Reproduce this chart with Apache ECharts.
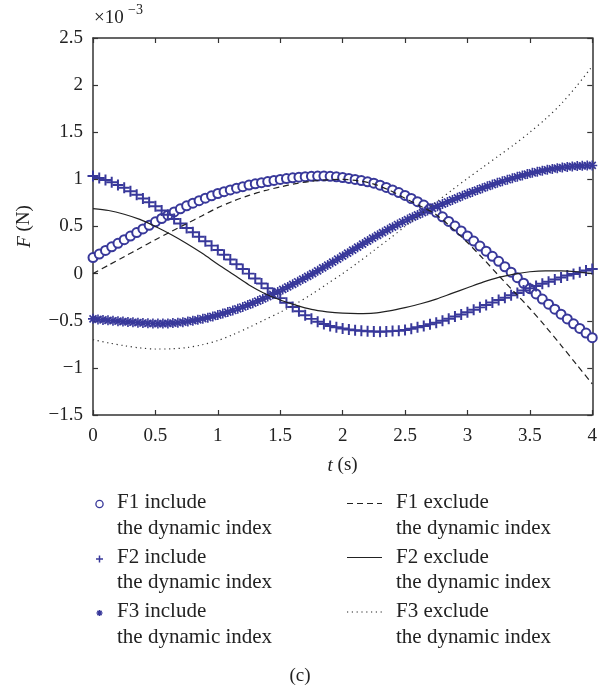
<!DOCTYPE html>
<html>
<head>
<meta charset="utf-8">
<script src="https://cdn.jsdelivr.net/npm/echarts@6.0.0/dist/echarts.min.js"></script>
<style>
  html, body { margin: 0; padding: 0; background: #fff; }
  #chart { width: 600px; height: 689px; }
</style>
</head>
<body>
<div id="chart"></div>
<script>
// values are in units of 1e-3 N, lines sampled every 0.125 s
var lineTimes = [0, 0.125, 0.25, 0.375, 0.5, 0.625, 0.75, 0.875, 1, 1.125, 1.25, 1.375, 1.5, 1.625, 1.75, 1.875,
  2, 2.125, 2.25, 2.375, 2.5, 2.625, 2.75, 2.875, 3, 3.125, 3.25, 3.375, 3.5, 3.625, 3.75, 3.875, 4];
var f1Exclude = [0.00, 0.09, 0.18, 0.27, 0.36, 0.445, 0.53, 0.615, 0.70, 0.77, 0.83, 0.88, 0.92, 0.955, 0.98, 0.995,
  1.00, 0.985, 0.95, 0.885, 0.80, 0.715, 0.625, 0.485, 0.33, 0.16, -0.02, -0.195, -0.37, -0.56, -0.76, -0.965, -1.17];
var f2Exclude = [0.69, 0.67, 0.63, 0.575, 0.50, 0.415, 0.32, 0.215, 0.10, -0.01, -0.12, -0.21, -0.28, -0.335, -0.38, -0.405,
  -0.42, -0.425, -0.42, -0.395, -0.36, -0.32, -0.27, -0.21, -0.15, -0.09, -0.04, -0.005, 0.02, 0.03, 0.03, 0.02, 0.00];
var f3Exclude = [-0.70, -0.735, -0.765, -0.788, -0.80, -0.798, -0.785, -0.755, -0.71, -0.645, -0.57, -0.49, -0.41, -0.32, -0.22, -0.11,
  0.00, 0.12, 0.245, 0.37, 0.50, 0.63, 0.76, 0.885, 1.01, 1.13, 1.25, 1.37, 1.50, 1.64, 1.80, 1.99, 2.20];

// sampled every 0.05 s
var f1Include = [0.170,0.208,0.246,0.284,0.322,0.360,0.398,0.436,0.474,0.512,
  0.550,0.585,0.620,0.654,0.688,0.720,0.747,0.774,0.800,0.825,
  0.850,0.869,0.888,0.906,0.923,0.940,0.953,0.965,0.977,0.989,
  1.000,1.008,1.016,1.023,1.029,1.033,1.035,1.035,1.032,1.027,
  1.020,1.010,0.999,0.987,0.974,0.960,0.938,0.914,0.888,0.860,
  0.830,0.797,0.763,0.727,0.689,0.650,0.603,0.554,0.504,0.453,
  0.400,0.346,0.292,0.238,0.184,0.130,0.073,0.015,-0.043,-0.102,
  -0.160,-0.215,-0.270,-0.324,-0.377,-0.430,-0.481,-0.532,-0.582,-0.631,
  -0.680];
var f2Include = [1.035,1.015,0.993,0.969,0.941,0.910,0.874,0.836,0.797,0.757,
  0.715,0.670,0.625,0.579,0.532,0.485,0.438,0.391,0.344,0.297,
  0.250,0.200,0.150,0.100,0.050,0.000,-0.052,-0.104,-0.156,-0.208,
  -0.260,-0.308,-0.353,-0.400,-0.442,-0.480,-0.510,-0.535,-0.555,-0.570,
  -0.582,-0.592,-0.600,-0.607,-0.612,-0.615,-0.616,-0.614,-0.610,-0.605,
  -0.598,-0.585,-0.570,-0.555,-0.538,-0.520,-0.499,-0.478,-0.456,-0.433,
  -0.410,-0.384,-0.358,-0.332,-0.306,-0.280,-0.255,-0.230,-0.205,-0.180,
  -0.155,-0.131,-0.108,-0.085,-0.062,-0.040,-0.021,-0.003,0.015,0.033,
  0.050];
// sampled every 0.04 s
var f3Include = [-0.480,-0.486,-0.491,-0.496,-0.500,-0.504,-0.509,-0.512,-0.516,-0.520,
  -0.524,-0.527,-0.529,-0.530,-0.530,-0.528,-0.525,-0.521,-0.515,-0.508,
  -0.499,-0.490,-0.479,-0.467,-0.454,-0.440,-0.424,-0.408,-0.391,-0.373,
  -0.354,-0.334,-0.313,-0.291,-0.268,-0.244,-0.219,-0.194,-0.168,-0.141,
  -0.114,-0.086,-0.058,-0.029,0.000,0.030,0.060,0.091,0.122,0.153,
  0.185,0.217,0.249,0.281,0.313,0.345,0.376,0.406,0.436,0.465,
  0.493,0.521,0.548,0.574,0.599,0.623,0.647,0.670,0.693,0.716,
  0.738,0.760,0.782,0.804,0.826,0.847,0.867,0.887,0.907,0.926,
  0.945,0.963,0.980,0.996,1.012,1.027,1.042,1.056,1.069,1.081,
  1.092,1.102,1.111,1.119,1.126,1.132,1.137,1.141,1.144,1.146,
  1.148];

var legendNames = ['F1 include', 'F2 include', 'F3 include', 'F1 exclude', 'F2 exclude', 'F3 exclude'];

var blue = '#38389a';
var ink = '#222';
var font = 'Liberation Serif';

var plusPath = 'path://M4.1,0 H5.9 V10 H4.1 Z M0,4.1 H10 V5.9 H0 Z';
var starPath = 'path://M4.2,0 H5.8 V10 H4.2 Z M0,4.2 H10 V5.8 H0 Z ' +
  'M2.1,0.9 L9.1,7.9 L7.9,9.1 L0.9,2.1 Z M7.9,0.9 L9.1,2.1 L2.1,9.1 L0.9,7.9 Z';

function pairs(times, vals) {
  return vals.map(function (v, i) { return [times[i], v]; });
}
function sampled(step, vals) {
  return vals.map(function (v, i) { return [Math.round(i * step * 1000) / 1000, v]; });
}

var chart = echarts.init(document.getElementById('chart'));

var axisLine = { show: true, onZero: false, lineStyle: { color: '#333', width: 1.5 } };
var tick = { show: true, inside: true, length: 5, lineStyle: { color: '#333', width: 1.2 } };
var labelStyle = { fontFamily: font, fontSize: 19, color: ink };

function legendText(x, y, s) {
  return { type: 'text', left: x, top: y - 12, style: { text: s, font: '21px "' + font + '"', fill: ink } };
}
function legendLine(y, dash) {
  return { type: 'line', shape: { x1: 347, y1: y, x2: 382, y2: y },
    style: { stroke: ink, lineWidth: 1.2, lineDash: dash } };
}
function seg(x1, y1, x2, y2) {
  return { type: 'line', shape: { x1: x1, y1: y1, x2: x2, y2: y2 }, style: { stroke: blue, lineWidth: 1.5 } };
}

var graphics = [
  { type: 'text', left: 94, top: 9, style: { text: '×10', font: '19px "' + font + '"', fill: ink } },
  { type: 'text', left: 128, top: 3, style: { text: '−3', font: '14px "' + font + '"', fill: ink } },
  { type: 'circle', shape: { cx: 99.5, cy: 504, r: 3.6 }, style: { fill: 'none', stroke: blue, lineWidth: 1.3 } },
  seg(96, 559, 103, 559), seg(99.5, 555.5, 99.5, 562.5),
  seg(96.5, 613, 102.5, 613), seg(99.5, 610, 99.5, 616), seg(97.4, 610.9, 101.6, 615.1), seg(101.6, 610.9, 97.4, 615.1),
  legendLine(503.5, [6, 4]), legendLine(557.5, null), legendLine(612, [1.2, 3.6]),
  { type: 'text', left: 'center', top: 667, style: { text: '(c)', font: '19px "' + font + '"', fill: ink } }
];
for (var i = 0; i < 3; i++) {
  var y0 = 504 + i * 54.5;
  graphics.push(legendText(117, y0, legendNames[i]));
  graphics.push(legendText(117, y0 + 25.5, 'the dynamic index'));
  graphics.push(legendText(396, y0, legendNames[i + 3]));
  graphics.push(legendText(396, y0 + 25.5, 'the dynamic index'));
}

chart.setOption({
  animation: false,
  backgroundColor: '#fff',
  grid: { left: 93, right: 2, top: 38, bottom: 274, containLabel: false },
  xAxis: [
    {
      type: 'value', min: 0, max: 4, interval: 0.5, position: 'bottom',
      axisLine: axisLine, axisTick: tick, splitLine: { show: false },
      axisLabel: Object.assign({ margin: 12 }, labelStyle),
      name: '{i|t} (s)', nameLocation: 'middle', nameGap: 41,
      nameTextStyle: { fontFamily: font, fontSize: 19, color: ink, rich: { i: { fontStyle: 'italic', fontFamily: font, fontSize: 19, color: ink } } }
    },
    {
      type: 'value', min: 0, max: 4, interval: 0.5, position: 'top',
      axisLine: axisLine, axisTick: tick, axisLabel: { show: false }, splitLine: { show: false }
    }
  ],
  yAxis: [
    {
      type: 'value', min: -1.5, max: 2.5, interval: 0.5, position: 'left',
      axisLine: axisLine, axisTick: tick, splitLine: { show: false },
      axisLabel: Object.assign({ margin: 10, formatter: function (v) { return String(v).replace('-', '−'); } }, labelStyle),
      name: '{i|F} (N)', nameLocation: 'middle', nameGap: 59, nameRotate: 90,
      nameTextStyle: { fontFamily: font, fontSize: 19, color: ink, rich: { i: { fontStyle: 'italic', fontFamily: font, fontSize: 19, color: ink } } }
    },
    {
      type: 'value', min: -1.5, max: 2.5, interval: 0.5, position: 'right',
      axisLine: axisLine, axisTick: tick, axisLabel: { show: false }, splitLine: { show: false }
    }
  ],
  graphic: graphics,
  series: [
    { name: 'F1 exclude', type: 'line', smooth: 0.3, symbol: 'none', data: pairs(lineTimes, f1Exclude),
      lineStyle: { color: ink, width: 1.2, type: [6, 4] } },
    { name: 'F2 exclude', type: 'line', smooth: 0.3, symbol: 'none', data: pairs(lineTimes, f2Exclude),
      lineStyle: { color: ink, width: 1.2, type: 'solid' } },
    { name: 'F3 exclude', type: 'line', smooth: 0.3, symbol: 'none', data: pairs(lineTimes, f3Exclude),
      lineStyle: { color: '#333', width: 1.2, type: [1.2, 3.6] } },
    { name: 'F1 include', type: 'scatter', symbol: 'emptyCircle', symbolSize: 9, data: sampled(0.05, f1Include),
      itemStyle: { color: blue, borderWidth: 1.4, opacity: 1 } },
    { name: 'F2 include', type: 'scatter', symbol: plusPath, symbolSize: 11, data: sampled(0.05, f2Include),
      itemStyle: { color: blue, opacity: 1 } },
    { name: 'F3 include', type: 'scatter', symbol: starPath, symbolSize: 10, data: sampled(0.04, f3Include),
      itemStyle: { color: blue, opacity: 1 } }
  ]
});
window.addEventListener('resize', function () { chart.resize(); });
</script>
</body>
</html>
